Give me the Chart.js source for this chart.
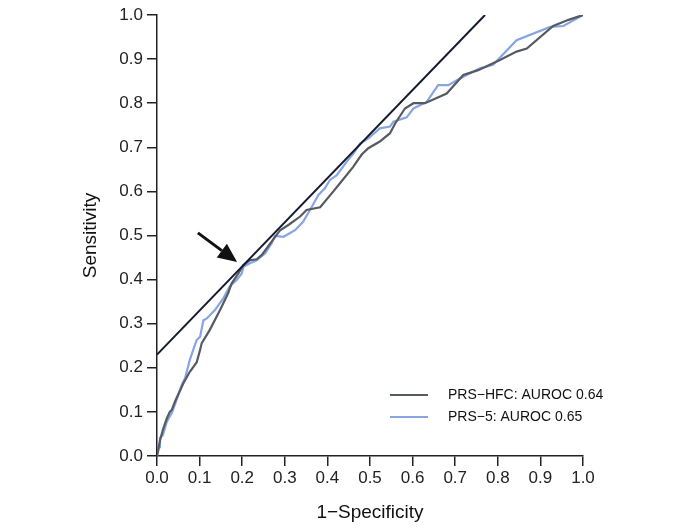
<!DOCTYPE html>
<html>
<head>
<meta charset="utf-8">
<script src="https://cdn.jsdelivr.net/npm/chart.js@4.4.1/dist/chart.umd.min.js"></script>
<style>
  html, body { margin: 0; padding: 0; background: #fff; }
  #wrap { width: 692px; height: 531px; }
</style>
</head>
<body>
<div id="wrap"><canvas id="roc"></canvas></div>
<script>
// PRS-HFC curve (1-specificity, sensitivity)
const hfcX = [0, 0.007, 0.014, 0.023, 0.03, 0.035, 0.042, 0.05, 0.062, 0.077, 0.093, 0.101, 0.105, 0.124, 0.148, 0.167, 0.175, 0.191, 0.203, 0.218, 0.234, 0.246, 0.269, 0.289, 0.31, 0.336, 0.351, 0.383, 0.414, 0.43, 0.461, 0.48, 0.496, 0.523, 0.547, 0.559, 0.582, 0.602, 0.629, 0.68, 0.719, 0.754, 0.805, 0.844, 0.868, 0.93, 0.966, 1.0];
const hfcY = [0, 0.035, 0.06, 0.085, 0.10, 0.105, 0.123, 0.14, 0.165, 0.191, 0.212, 0.24, 0.256, 0.286, 0.331, 0.369, 0.391, 0.414, 0.433, 0.444, 0.446, 0.456, 0.486, 0.512, 0.525, 0.543, 0.558, 0.564, 0.6, 0.619, 0.656, 0.683, 0.698, 0.713, 0.732, 0.754, 0.788, 0.8, 0.8, 0.822, 0.864, 0.875, 0.898, 0.917, 0.924, 0.975, 0.989, 1.0];

// PRS-5 curve
const prs5X = [0, 0.005, 0.007, 0.014, 0.023, 0.035, 0.046, 0.058, 0.066, 0.077, 0.093, 0.101, 0.109, 0.117, 0.136, 0.156, 0.171, 0.187, 0.199, 0.203, 0.218, 0.234, 0.254, 0.269, 0.277, 0.297, 0.324, 0.343, 0.359, 0.379, 0.394, 0.406, 0.422, 0.445, 0.461, 0.477, 0.496, 0.523, 0.547, 0.555, 0.586, 0.602, 0.633, 0.66, 0.684, 0.711, 0.758, 0.789, 0.844, 0.923, 0.954, 1.0];
const prs5Y = [0, 0.02, 0.041, 0.048, 0.078, 0.098, 0.127, 0.161, 0.177, 0.218, 0.263, 0.27, 0.308, 0.312, 0.331, 0.358, 0.385, 0.399, 0.414, 0.429, 0.437, 0.444, 0.46, 0.482, 0.499, 0.497, 0.512, 0.531, 0.558, 0.592, 0.607, 0.626, 0.637, 0.667, 0.686, 0.709, 0.72, 0.743, 0.747, 0.758, 0.768, 0.788, 0.803, 0.841, 0.841, 0.856, 0.879, 0.887, 0.943, 0.973, 0.975, 1.0];

// tangent line and arrow (data coordinates)
const tangentX = [0, 0.77];
const tangentY = [0.23, 1.0];
const arrowFrom = [0.096, 0.506];
const arrowTo = [0.188, 0.44];

const seriesNames = ["PRS\u2212HFC: AUROC 0.64", "PRS\u22125: AUROC 0.65"];
const tickValues = [0, 0.1, 0.2, 0.3, 0.4, 0.5, 0.6, 0.7, 0.8, 0.9, 1.0];

const toPoints = (xs, ys) => xs.map((x, i) => ({ x, y: ys[i] }));

const grayCol = "#565b63";
const blueCol = "#86a5e2";
const navyCol = "#141a2e";
const fontFam = "'Liberation Sans', Arial, sans-serif";

// arrow + legend drawn on top
const extras = {
  id: "extras",
  afterDatasetsDraw(chart) {
    const { ctx, scales: { x, y } } = chart;
    const x1 = x.getPixelForValue(arrowFrom[0]), y1 = y.getPixelForValue(arrowFrom[1]);
    const x2 = x.getPixelForValue(arrowTo[0]), y2 = y.getPixelForValue(arrowTo[1]);
    const ang = Math.atan2(y2 - y1, x2 - x1);
    const headLen = 19, headW = 8.5;
    const bx = x2 - headLen * Math.cos(ang), by = y2 - headLen * Math.sin(ang);
    ctx.save();
    ctx.strokeStyle = "#111";
    ctx.fillStyle = "#111";
    ctx.lineWidth = 3;
    ctx.beginPath();
    ctx.moveTo(x1, y1);
    ctx.lineTo(bx, by);
    ctx.stroke();
    ctx.beginPath();
    ctx.moveTo(x2, y2);
    ctx.lineTo(bx + headW * Math.sin(ang), by - headW * Math.cos(ang));
    ctx.lineTo(bx - headW * Math.sin(ang), by + headW * Math.cos(ang));
    ctx.closePath();
    ctx.fill();

    // legend
    const cols = [grayCol, blueCol];
    ctx.font = "14px " + fontFam;
    ctx.textBaseline = "middle";
    seriesNames.forEach((name, i) => {
      const ly = 395 + i * 22;
      ctx.strokeStyle = cols[i];
      ctx.lineWidth = 2;
      ctx.beginPath();
      ctx.moveTo(390, ly);
      ctx.lineTo(428, ly);
      ctx.stroke();
      ctx.fillStyle = "#111";
      ctx.fillText(name, 448, ly);
    });
    ctx.restore();
  }
};

new Chart(document.getElementById("roc"), {
  type: "line",
  data: {
    datasets: [
      {
        label: "tangent",
        data: toPoints(tangentX, tangentY),
        borderColor: navyCol,
        borderWidth: 2,
        pointRadius: 0
      },
      {
        label: seriesNames[0],
        data: toPoints(hfcX, hfcY),
        borderColor: grayCol,
        borderWidth: 2.2,
        pointRadius: 0,
        tension: 0
      },
      {
        label: seriesNames[1],
        data: toPoints(prs5X, prs5Y),
        borderColor: blueCol,
        borderWidth: 2.2,
        pointRadius: 0,
        tension: 0
      }
    ]
  },
  options: {
    responsive: true,
    maintainAspectRatio: false,
    animation: false,
    layout: { padding: { top: 15, right: 109, left: 79, bottom: 0 } },
    plugins: { legend: { display: false }, tooltip: { enabled: false } },
    scales: {
      x: {
        type: "linear",
        min: 0, max: 1,
        afterBuildTicks: s => { s.ticks = tickValues.map(v => ({ value: v })); },
        afterFit: s => { s.height = 75; },
        border: { display: true, color: "#222", width: 1.5 },
        grid: { display: true, drawOnChartArea: false, drawTicks: true, tickLength: 10, color: "#222", lineWidth: 1.5 },
        ticks: {
          color: "#222",
          font: { family: fontFam, size: 17 },
          padding: 2,
          maxRotation: 0,
          callback: v => Number(v).toFixed(1)
        },
        title: { display: true, text: "1\u2212Specificity", color: "#111", font: { family: fontFam, size: 19 }, padding: { top: 4, bottom: 7 } }
      },
      y: {
        type: "linear",
        min: 0, max: 1,
        afterBuildTicks: s => { s.ticks = tickValues.map(v => ({ value: v })); },
        afterFit: s => { s.width = 78; },
        border: { display: true, color: "#222", width: 1.5 },
        grid: { display: true, drawOnChartArea: false, drawTicks: true, tickLength: 10, color: "#222", lineWidth: 1.5 },
        ticks: {
          color: "#222",
          font: { family: fontFam, size: 17 },
          padding: 4,
          callback: v => Number(v).toFixed(1)
        },
        title: { display: true, text: "Sensitivity", color: "#111", font: { family: fontFam, size: 19 }, padding: { top: 0, bottom: 0 } }
      }
    }
  },
  plugins: [extras]
});
</script>
</body>
</html>
